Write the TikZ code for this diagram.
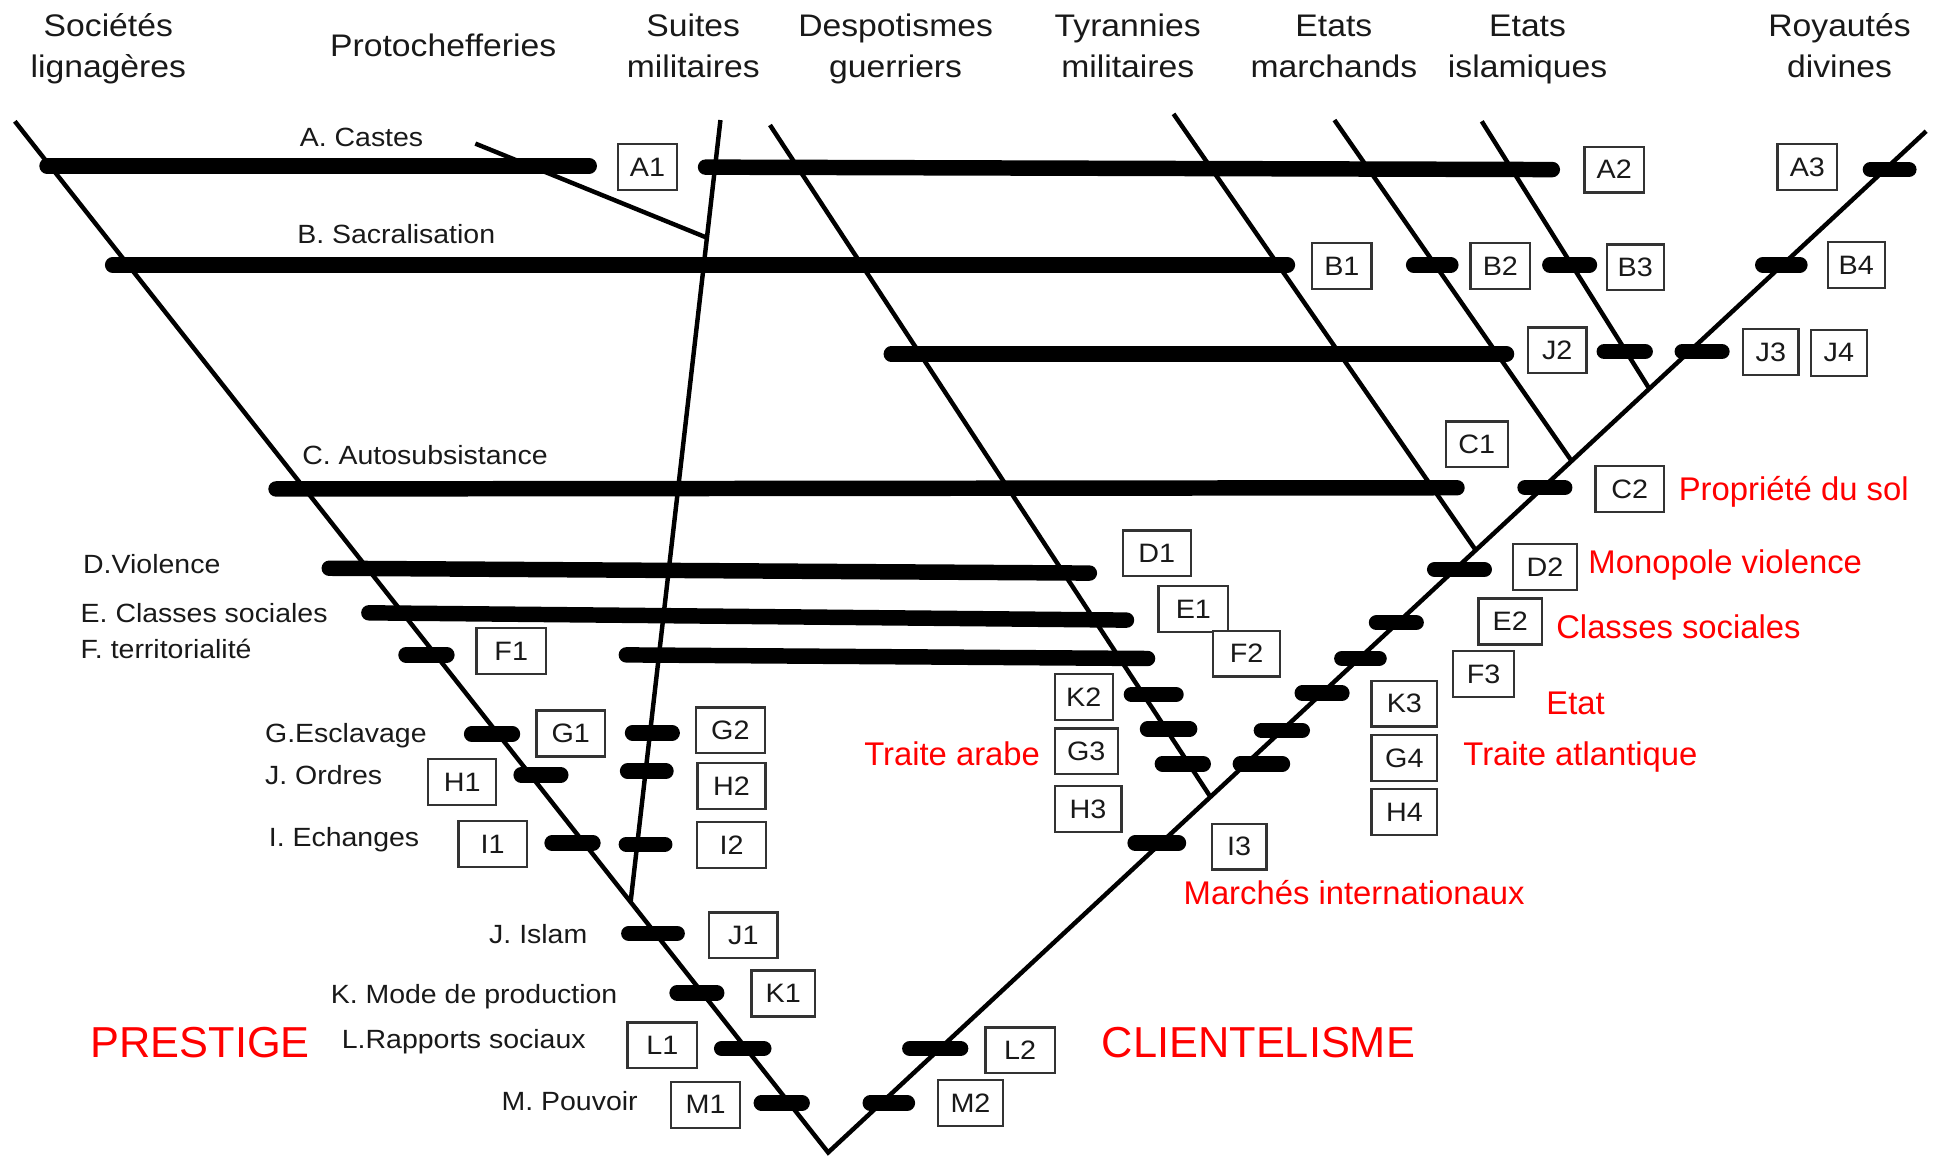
\documentclass[tikz,border=0pt]{standalone}
\usepackage{fontspec}
\setmainfont{Liberation Sans}
\newfontfamily\blk{Liberation Sans}[FakeStretch=1.08]
\begin{document}
\begin{tikzpicture}[x=1pt,y=-1pt,
  thinline/.style={line width=3.6pt, line join=miter},
  bar/.style={line width=12.5pt, line cap=round, shorten <=6pt, shorten >=6pt},
  box/.style={draw=black!80, line width=1.9pt, fill=white, minimum height=37pt, minimum width=52pt, inner sep=0pt, font=\blk\fontsize{21.5}{25}\selectfont, text=black!90},
  lbl/.style={anchor=base west, inner sep=0pt, font=\blk\fontsize{21.3}{25}\selectfont, text=black!90},
  hdr/.style={anchor=base, align=center, inner sep=0pt, font=\blk\fontsize{25.2}{33}\selectfont, text=black!90},
  rlbl/.style={anchor=base west, inner sep=0pt, font=\fontsize{26.5}{30}\selectfont, text=red},
  big/.style={anchor=base west, inner sep=0pt, font=\fontsize{35}{40}\selectfont, text=red}
]
\useasboundingbox (0,0) rectangle (1568,934);

% headers (base = last line)
\node[hdr] (h1) at (87.5,62.5) {Sociétés\\lignagères};
\node[hdr] (h2) at (358,46) {Protochefferies};
\node[hdr] (h3) at (560,62.5) {Suites\\militaires};
\node[hdr] (h4) at (723.5,62.5) {Despotismes\\guerriers};
\node[hdr] (h5) at (911,62.5) {Tyrannies\\militaires};
\node[hdr] (h6) at (1077.5,62.5) {Etats\\marchands};
\node[hdr] (h7) at (1234,62.5) {Etats\\islamiques};
\node[hdr] (h8) at (1486,62.5) {Royautés\\divines};

% structural lines
\coordinate (Ltop) at (12,98);
\coordinate (apex) at (669,931);
\coordinate (Rtop) at (1556,106);
\coordinate (Stop) at (582,97);   \coordinate (Sbot) at (509.5,728);
\coordinate (Ktop) at (384,116);  \coordinate (Kbot) at (571,192);
\coordinate (Dtop) at (622,101);  \coordinate (Dbot) at (978,644);
\coordinate (Ttop) at (948,92);   \coordinate (Tbot) at (1192.5,445);
\coordinate (Mtop) at (1078,97);  \coordinate (Mbot) at (1270,373);
\coordinate (Itop) at (1197,98);  \coordinate (Ibot) at (1333,315);

\draw[thinline] (Ltop) -- (apex) -- (Rtop);
\draw[thinline] (Stop) -- (Sbot);
\draw[thinline] (Ktop) -- (Kbot);
\draw[thinline] (Dtop) -- (Dbot);
\draw[thinline] (Ttop) -- (Tbot);
\draw[thinline] (Mtop) -- (Mbot);
\draw[thinline] (Itop) -- (Ibot);

% thick bars
\draw[bar] (32,134) -- (482,134);
\draw[bar] (564,135) -- (1260,137);
\draw[bar] (1505,137) -- (1548,137);
\draw[bar] (85,214) -- (1046,214);
\draw[bar] (1136,214) -- (1178,214);
\draw[bar] (1246,214) -- (1290,214);
\draw[bar] (1418,214) -- (1460,214);
\draw[bar] (714,286) -- (1223,286);
\draw[bar] (1290,284) -- (1335,284);
\draw[bar] (1353,284) -- (1397,284);
\draw[bar] (217,395) -- (1183,394);
\draw[bar] (1226,394) -- (1270,394);
\draw[bar] (260,459) -- (886,463);
\draw[bar] (292,495) -- (916,501);
\draw[bar] (322,529) -- (367,529);
\draw[bar] (500,529) -- (933,532);
\draw[bar] (1153,460) -- (1205,460);
\draw[bar] (1106,503) -- (1150,503);
\draw[bar] (1078,532) -- (1120,532);
\draw[bar] (908,561) -- (956,561);
\draw[bar] (1046,560) -- (1090,560);
\draw[bar] (921,589) -- (967,589);
\draw[bar] (1013,590) -- (1058,590);
\draw[bar] (933,617) -- (978,617);
\draw[bar] (996,617) -- (1042,617);
\draw[bar] (911,681) -- (958,681);
\draw[bar] (729,847) -- (782,847);
\draw[bar] (697,891) -- (739,891);
\draw[bar] (375,593) -- (420,593);
\draw[bar] (505,592) -- (549,592);
\draw[bar] (415,626) -- (459,626);
\draw[bar] (501,623) -- (544,623);
\draw[bar] (440,681) -- (485,681);
\draw[bar] (500,682) -- (543,682);
\draw[bar] (502,754) -- (553,754);
\draw[bar] (541,802) -- (585,802);
\draw[bar] (577,847) -- (623,847);
\draw[bar] (609,891) -- (654,891);

% boxes
\node[box, minimum width=48pt] (A1) at (523,135) {A1};
\node[box, minimum width=48pt] (A2) at (1304,137) {A2};
\node[box, minimum width=48pt] (A3) at (1460,135) {A3};
\node[box, minimum width=48pt] (B1) at (1084,215) {B1};
\node[box, minimum width=48pt] (B2) at (1212,215) {B2};
\node[box, minimum width=46pt] (B3) at (1321,216) {B3};
\node[box, minimum width=46pt] (B4) at (1499.5,214) {B4};
\node[box, minimum width=47pt] (J2) at (1258,283) {J2};
\node[box, minimum width=45pt] (J3) at (1430.5,284.5) {J3};
\node[box, minimum width=45pt] (J4) at (1485.5,285) {J4};
\node[box, minimum width=50pt] (C1) at (1193,359) {C1};
\node[box, minimum width=55pt] (C2) at (1316.5,395) {C2};
\node[box, minimum width=55pt] (D1) at (934.5,447) {D1};
\node[box, minimum width=56pt] (E1) at (964,492) {E1};
\node[box, minimum width=54pt] (F2) at (1007,528) {F2};
\node[box, minimum width=52pt] (D2) at (1248,458) {D2};
\node[box, minimum width=51pt] (E2) at (1220,502) {E2};
\node[box, minimum width=49pt] (F3) at (1198.5,544.5) {F3};
\node[box, minimum width=47pt] (K2) at (875.5,563) {K2};
\node[box, minimum width=53pt] (K3) at (1134.5,568.5) {K3};
\node[box, minimum width=51pt] (G3) at (877.5,607) {G3};
\node[box, minimum width=53pt] (G4) at (1134.5,612.5) {G4};
\node[box, minimum width=54pt] (H3) at (879,653.6) {H3};
\node[box, minimum width=53pt] (H4) at (1134.5,656) {H4};
\node[box, minimum width=44pt] (I3) at (1001,684) {I3};
\node[box, minimum width=56pt] (L2) at (824,848.5) {L2};
\node[box, minimum width=53pt] (M2) at (784,891) {M2};
\node[box, minimum width=56pt] (F1) at (413,526) {F1};
\node[box, minimum width=55pt] (G1) at (461,592.5) {G1};
\node[box, minimum width=56pt] (G2) at (590,590) {G2};
\node[box, minimum width=55pt] (H1) at (373.4,631.7) {H1};
\node[box, minimum width=55pt] (H2) at (591,635) {H2};
\node[box, minimum width=55pt] (I1) at (398,681.8) {I1};
\node[box, minimum width=56pt] (I2) at (591,682.6) {I2};
\node[box, minimum width=55pt] (J1) at (600.5,755.6) {J1};
\node[box, minimum width=51pt] (K1) at (632.7,802.6) {K1};
\node[box, minimum width=56pt] (L1) at (535,844.4) {L1};
\node[box, minimum width=56pt] (M1) at (570,892.5) {M1};

% black labels
\node[lbl] (tA) at (242,118) {A. Castes};
\node[lbl] (tB) at (240,196.5) {B. Sacralisation};
\node[lbl] (tC) at (244,375.6) {C. Autosubsistance};
\node[lbl] (tD) at (67,463) {D.Violence};
\node[lbl] (tE) at (65,503) {E. Classes sociales};
\node[lbl] (tF) at (65,532) {F. territorialité};
\node[lbl] (tG) at (214,600) {G.Esclavage};
\node[lbl] (tH) at (214,634) {J. Ordres};
\node[lbl] (tI) at (217,684) {I. Echanges};
\node[lbl] (tJ) at (395,762) {J. Islam};
\node[lbl] (tK) at (267,810.5) {K. Mode de production};
\node[lbl] (tL) at (276,846.8) {L.Rapports sociaux};
\node[lbl] (tM) at (405,897) {M. Pouvoir};

% red labels
\node[rlbl] (r1) at (1356,404) {Propriété du sol};
\node[rlbl] (r2) at (1283,463) {Monopole violence};
\node[rlbl] (r3) at (1257,516) {Classes sociales};
\node[rlbl] (r4) at (1249,577.5) {Etat};
\node[rlbl] (r5) at (1182,618) {Traite atlantique};
\node[rlbl] (r6) at (698,618) {Traite arabe};
\node[rlbl] (r7) at (956,731) {Marchés internationaux};
\node[big] (p1) at (73,854.5) {PRESTIGE};
\node[big] (p2) at (890,854.5) {CLIENTELISME};
\end{tikzpicture}
\end{document}
